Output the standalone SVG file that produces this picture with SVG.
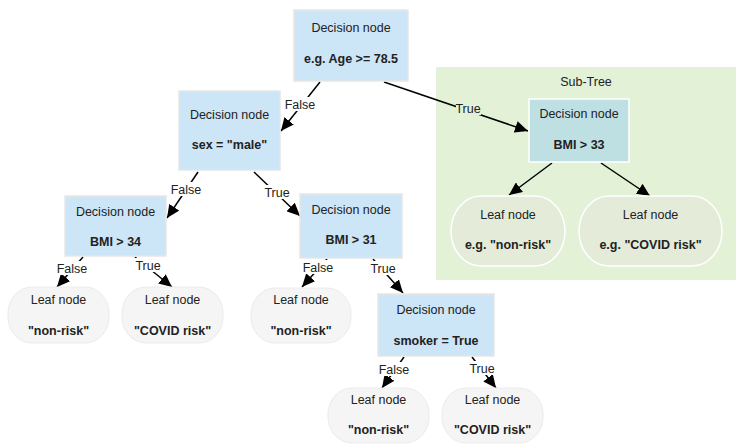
<svg xmlns="http://www.w3.org/2000/svg" width="746" height="448" viewBox="0 0 746 448">
<style>
text{font-family:"Liberation Sans",Arial,sans-serif;font-size:12.5px;fill:#222;text-anchor:middle}
.b{font-weight:bold}
.dec{fill:#cce5f7;stroke:#e6e6e6;stroke-width:1.5}
.sdec{fill:#bfe0e3;stroke:#ffffff;stroke-width:1.5}
.leaf{fill:#f5f5f5;stroke:#ebebeb;stroke-width:1}
.sleaf{fill:#e4ecd9;stroke:#ffffff;stroke-width:1.5}
.edge{stroke:#000;stroke-width:1.5;fill:none;marker-end:url(#arr)}
.lbw{fill:#ffffff}
.lbg{fill:#e3f1d7}
</style>
<defs>
<marker id="arr" markerWidth="14" markerHeight="12" refX="13" refY="6" orient="auto" markerUnits="userSpaceOnUse">
<path d="M0,0 L13,6 L0,12 z" fill="#000"/>
</marker>
</defs>
<rect width="746" height="448" fill="#fff"/>
<g id="subtree">
<rect x="436" y="67" width="300" height="213" fill="#e3f1d7"/>
<text x="586" y="86">Sub-Tree</text>
</g>
<g id="connectors">
<line class="edge" x1="320" y1="82" x2="281" y2="131"/>
<line class="edge" x1="384" y1="82" x2="528" y2="131"/>
<line class="edge" x1="552" y1="163" x2="509" y2="195"/>
<line class="edge" x1="601" y1="163" x2="650" y2="196"/>
<line class="edge" x1="198" y1="172" x2="167" y2="218"/>
<line class="edge" x1="254" y1="172" x2="300" y2="216"/>
<line class="edge" x1="83" y1="257" x2="57" y2="287"/>
<line class="edge" x1="135" y1="257" x2="172" y2="287"/>
<line class="edge" x1="327" y1="259" x2="302" y2="287"/>
<line class="edge" x1="373" y1="259" x2="403" y2="293"/>
<line class="edge" x1="404" y1="357" x2="382" y2="388"/>
<line class="edge" x1="472" y1="357" x2="496" y2="388"/>
<rect class="lbw" x="285" y="97" width="30" height="14"/><text x="300" y="108.5">False</text>
<rect class="lbg" x="456" y="101" width="25" height="14"/><text x="468" y="112.5">True</text>
<rect class="lbw" x="171" y="182" width="30" height="14"/><text x="186" y="193.5">False</text>
<rect class="lbw" x="265" y="185" width="25" height="14"/><text x="277" y="196.5">True</text>
<rect class="lbw" x="57" y="261" width="30" height="14"/><text x="72" y="272.5">False</text>
<rect class="lbw" x="135" y="258" width="25" height="14"/><text x="148" y="269.5">True</text>
<rect class="lbw" x="303" y="260" width="30" height="14"/><text x="318" y="271.5">False</text>
<rect class="lbw" x="370" y="261" width="25" height="14"/><text x="383" y="272.5">True</text>
<rect class="lbw" x="379" y="362" width="30" height="14"/><text x="394" y="373.5">False</text>
<rect class="lbw" x="469" y="361" width="25" height="14"/><text x="482" y="372.5">True</text>
</g>
<g id="n-root">
<rect class="dec" x="294" y="10" width="114" height="71"/>
<text x="351" y="32">Decision node</text>
<text class="b" x="351" y="63">e.g. Age &gt;= 78.5</text>
</g>
<g id="n-sex">
<rect class="dec" x="179" y="91" width="101" height="79"/>
<text x="229.5" y="118.5">Decision node</text>
<text class="b" x="229.5" y="149">sex = "male"</text>
</g>
<g id="n-sub">
<rect class="sdec" x="529" y="99" width="100" height="63"/>
<text x="579" y="117.5">Decision node</text>
<text class="b" x="579" y="149">BMI &gt; 33</text>
</g>
<g id="n-subleaf1">
<rect class="sleaf" x="451" y="196" width="114" height="70" rx="30" ry="35"/>
<text x="508" y="218.5">Leaf node</text>
<text class="b" x="508" y="248.5">e.g. "non-risk"</text>
</g>
<g id="n-subleaf2">
<rect class="sleaf" x="579" y="196" width="143" height="70" rx="30" ry="35"/>
<text x="650.5" y="218.5">Leaf node</text>
<text class="b" x="650.5" y="248.5">e.g. "COVID risk"</text>
</g>
<g id="n-bmi34">
<rect class="dec" x="65" y="196" width="101" height="60"/>
<text x="115.5" y="215.5">Decision node</text>
<text class="b" x="115.5" y="246">BMI &gt; 34</text>
</g>
<g id="n-bmi31">
<rect class="dec" x="300" y="194" width="102" height="64"/>
<text x="351" y="213.5">Decision node</text>
<text class="b" x="351" y="244">BMI &gt; 31</text>
</g>
<g id="n-leaf1">
<rect class="leaf" x="8" y="287" width="101" height="56" rx="24" ry="26"/>
<text x="58.5" y="303.5">Leaf node</text>
<text class="b" x="58.5" y="334.5">"non-risk"</text>
</g>
<g id="n-leaf2">
<rect class="leaf" x="122" y="287" width="101" height="56" rx="24" ry="26"/>
<text x="172.5" y="303.5">Leaf node</text>
<text class="b" x="172.5" y="334.5">"COVID risk"</text>
</g>
<g id="n-leaf3">
<rect class="leaf" x="251" y="288" width="100" height="55" rx="24" ry="26"/>
<text x="301" y="303.5">Leaf node</text>
<text class="b" x="301" y="334.5">"non-risk"</text>
</g>
<g id="n-smoker">
<rect class="dec" x="378" y="294" width="116" height="62"/>
<text x="436" y="313.5">Decision node</text>
<text class="b" x="436" y="344.5">smoker = True</text>
</g>
<g id="n-leaf4">
<rect class="leaf" x="328" y="388" width="101" height="55" rx="24" ry="26"/>
<text x="378.5" y="403.5">Leaf node</text>
<text class="b" x="378.5" y="434">"non-risk"</text>
</g>
<g id="n-leaf5">
<rect class="leaf" x="442" y="388" width="101" height="55" rx="24" ry="26"/>
<text x="492.5" y="403.5">Leaf node</text>
<text class="b" x="492.5" y="434">"COVID risk"</text>
</g>
</svg>
